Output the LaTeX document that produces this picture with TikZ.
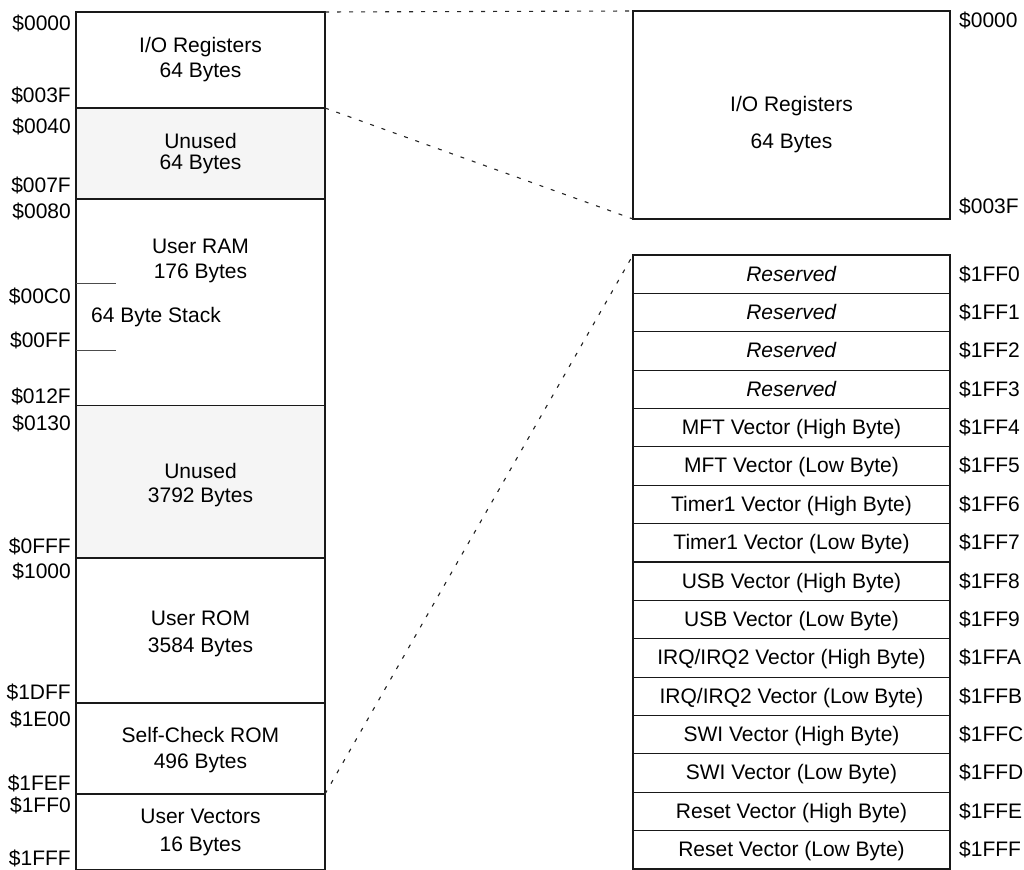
\documentclass[tikz,border=0pt]{standalone}
\usepackage{fontspec}
\setmainfont{Liberation Sans}
\begin{document}
\begin{tikzpicture}[x=1pt,y=-1pt,
  blk/.style={draw=black!90, line width=1.2pt, rectangle, anchor=north west, inner sep=0pt, outer sep=0pt},
  lblk/.style={blk, minimum width=249pt},
  rblk/.style={blk, minimum width=317pt},
  unusedfill/.style={fill=black!4},
  txt/.style={inner sep=0pt, anchor=base, font=\fontsize{21}{25}\selectfont},
  laddr/.style={txt, anchor=base east},
  raddr/.style={txt, anchor=base west},
  dashline/.style={draw=black!85, line width=1.1pt, dash pattern=on 4pt off 8pt},
  tick/.style={draw=black!70, line width=1pt}]
\useasboundingbox (0,0) rectangle (1024,869);

% ---- left memory map ----
\node[lblk, minimum height=96pt] (io) at (76,12) {};
\node[lblk, unusedfill, minimum height=91pt] (un1) at (76,108) {};
\node[lblk, minimum height=206.5pt] (ram) at (76,199) {};
\node[lblk, unusedfill, minimum height=152.5pt] (un2) at (76,405.5) {};
\node[lblk, minimum height=145pt] (rom) at (76,558) {};
\node[lblk, minimum height=91pt] (sc) at (76,703) {};
\node[lblk, minimum height=76pt] (uv) at (76,794) {};

\node[txt] (iot1) at (200.5,53) {I/O Registers};
\node[txt] (iot2) at (200.5,78) {64 Bytes};
\node[txt] (un1t1) at (200.5,149) {Unused};
\node[txt] (un1t2) at (200.5,169) {64 Bytes};
\node[txt] (ramt1) at (200.5,253) {User RAM};
\node[txt] (ramt2) at (200.5,278) {176 Bytes};
\node[txt, anchor=base west] (stack) at (91,322) {64 Byte Stack};
\node[txt] (un2t1) at (200.5,478) {Unused};
\node[txt] (un2t2) at (200.5,502) {3792 Bytes};
\node[txt] (romt1) at (200.5,625) {User ROM};
\node[txt] (romt2) at (200.5,652) {3584 Bytes};
\node[txt] (sct1) at (200.5,742) {Self-Check ROM};
\node[txt] (sct2) at (200.5,768) {496 Bytes};
\node[txt] (uvt1) at (200.5,823) {User Vectors};
\node[txt] (uvt2) at (200.5,851) {16 Bytes};

\draw[tick] (76,283) -- (116,283);
\draw[tick] (76,350) -- (116,350);

\node[laddr] (a0000) at (71,31) {\$0000};
\node[laddr] (a003F) at (71,103) {\$003F};
\node[laddr] (a0040) at (71,134) {\$0040};
\node[laddr] (a007F) at (71,193) {\$007F};
\node[laddr] (a0080) at (71,218) {\$0080};
\node[laddr] (a00C0) at (71,303) {\$00C0};
\node[laddr] (a00FF) at (71,347) {\$00FF};
\node[laddr] (a012F) at (71,403) {\$012F};
\node[laddr] (a0130) at (71,430) {\$0130};
\node[laddr] (a0FFF) at (71,553) {\$0FFF};
\node[laddr] (a1000) at (71,578) {\$1000};
\node[laddr] (a1DFF) at (71,699) {\$1DFF};
\node[laddr] (a1E00) at (71,726) {\$1E00};
\node[laddr] (a1FEF) at (71,790) {\$1FEF};
\node[laddr] (a1FF0) at (71,812) {\$1FF0};
\node[laddr] (a1FFF) at (71,865) {\$1FFF};

% ---- right: I/O registers detail ----
\node[rblk, minimum height=208pt] (rio) at (633,11) {};
\node[txt] (riot1) at (791.5,112) {I/O Registers};
\node[txt] (riot2) at (791.5,149) {64 Bytes};
\node[raddr] (r0000) at (959,28) {\$0000};
\node[raddr] (r003F) at (959,213) {\$003F};

% ---- right: vector table ----
\foreach \h/\t [count=\i from 0] in {
  0/{\textit{Reserved}}, 1/{\textit{Reserved}}, 2/{\textit{Reserved}}, 3/{\textit{Reserved}},
  4/{MFT Vector (High Byte)}, 5/{MFT Vector (Low Byte)},
  6/{Timer1 Vector (High Byte)}, 7/{Timer1 Vector (Low Byte)},
  8/{USB Vector (High Byte)}, 9/{USB Vector (Low Byte)},
  A/{IRQ/IRQ2 Vector (High Byte)}, B/{IRQ/IRQ2 Vector (Low Byte)},
  C/{SWI Vector (High Byte)}, D/{SWI Vector (Low Byte)},
  E/{Reset Vector (High Byte)}, F/{Reset Vector (Low Byte)}} {
  \pgfmathsetmacro{\yt}{255+38.375*\i}
  \node[rblk, minimum height=38.375pt] (v\i) at (633,\yt) {};
  \node[txt] (vt\i) at (791.5,\yt+26) {\t};
  \node[raddr] (va\i) at (959,\yt+26) {\$1FF\h};
}

% ---- dashed connectors ----
\draw[dashline] (io.north east) -- (rio.north west);
\draw[dashline] (io.south east) -- (rio.south west);
\draw[dashline] (sc.south east) -- (v0.north west);
\end{tikzpicture}
\end{document}
